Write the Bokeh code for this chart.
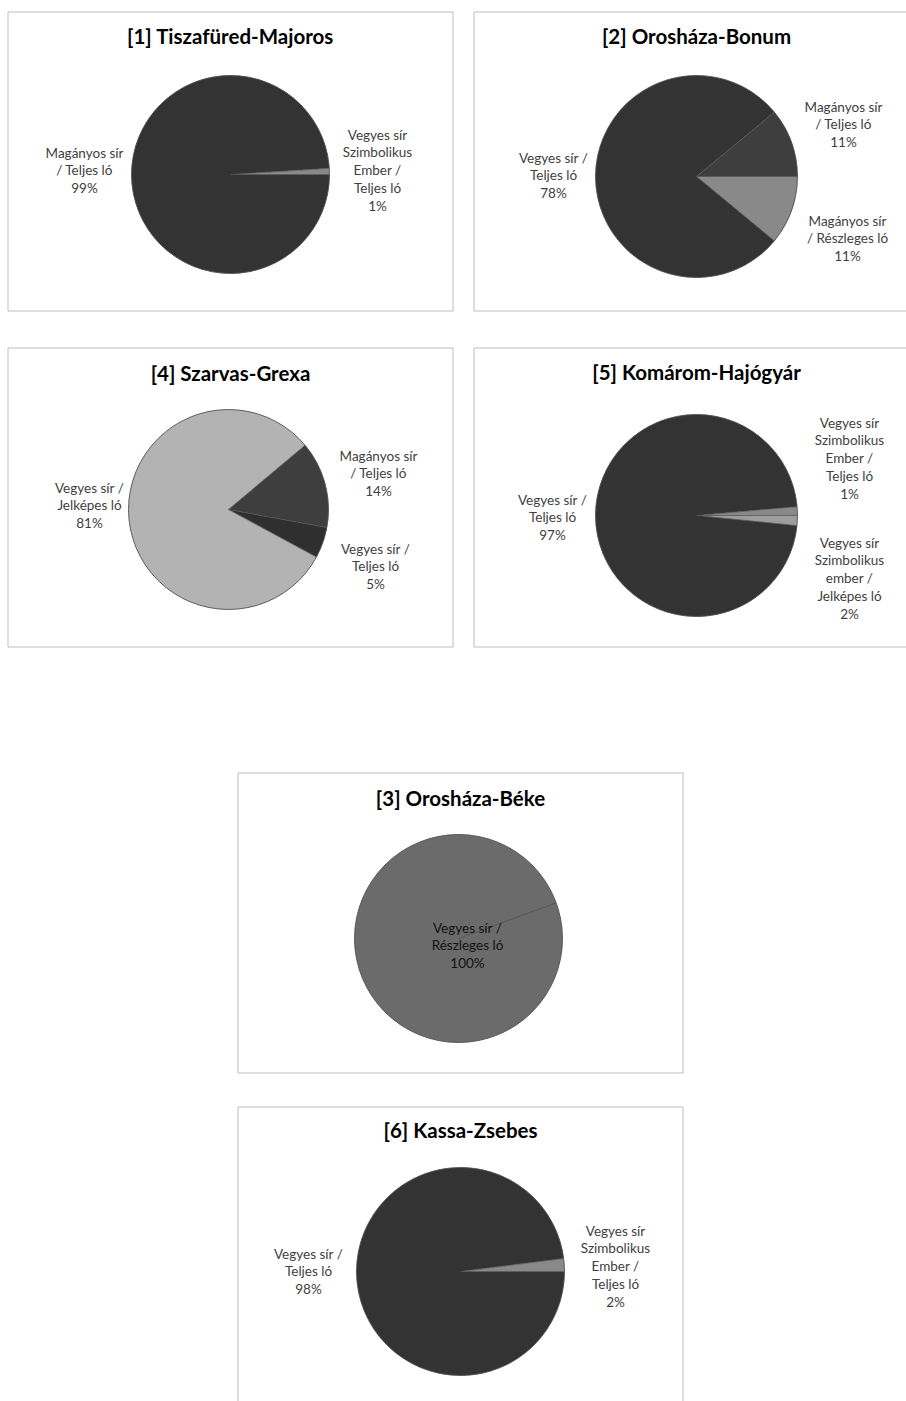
import math
from bokeh.plotting import figure
from bokeh.models import Range1d, ColumnDataSource
from bokeh.embed import file_html
from bokeh.resources import INLINE
from bokeh.core.properties import value

# ---------------- data ----------------
# slices listed clockwise from each chart's first-slice angle
c1_title = "[1] Tiszafüred-Majoros"
c1_categories = ["Magányos sír\n/ Teljes ló", "Vegyes sír\nSzimbolikus\nEmber /\nTeljes ló"]
c1_values = [99, 1]

c2_title = "[2] Orosháza-Bonum"
c2_categories = ["Magányos sír\n/ Részleges ló", "Vegyes sír /\nTeljes ló", "Magányos sír\n/ Teljes ló"]
c2_values = [11, 78, 11]

c4_title = "[4] Szarvas-Grexa"
c4_categories = ["Magányos sír\n/ Teljes ló", "Vegyes sír /\nTeljes ló", "Vegyes sír /\nJelképes ló"]
c4_values = [14, 5, 81]

c5_title = "[5] Komárom-Hajógyár"
c5_categories = ["Vegyes sír\nSzimbolikus\nember /\nJelképes ló", "Vegyes sír /\nTeljes ló", "Vegyes sír\nSzimbolikus\nEmber /\nTeljes ló"]
c5_values = [1.6, 97, 1.4]

c3_title = "[3] Orosháza-Béke"
c3_categories = ["Vegyes sír /\nRészleges ló"]
c3_values = [100]

c6_title = "[6] Kassa-Zsebes"
c6_categories = ["Vegyes sír /\nTeljes ló", "Vegyes sír\nSzimbolikus\nEmber /\nTeljes ló"]
c6_values = [98, 2]

# ---------------- layout / style ----------------
DARK = "#333333"
DARK2 = "#3e3e3e"
GRAY = "#898989"
LGRAY = "#9d9d9d"
LIGHT = "#b3b3b3"
MID = "#6b6b6b"

charts = [
    dict(title=c1_title, cats=c1_categories, vals=c1_values, colors=[DARK, GRAY],
         frame=(7, 453, 11, 311), center=(230, 174), r=99, start=0, title_pos=(230, 35),
         label_pos=[(84, 152), (377, 134)], label_colors=["#404040", "#404040"]),
    dict(title=c2_title, cats=c2_categories, vals=c2_values, colors=[GRAY, DARK, DARK2],
         frame=(473, 919, 11, 311), center=(696, 176), r=101, start=0, title_pos=(696, 35),
         label_pos=[(847, 220), (553, 157), (843, 106)], label_colors=["#404040"] * 3),
    dict(title=c4_title, cats=c4_categories, vals=c4_values, colors=[DARK2, "#2f2f2f", LIGHT],
         frame=(7, 453, 347, 647), center=(228, 509), r=100, start=40, title_pos=(230, 372),
         label_pos=[(378, 455), (375, 548), (89, 487)], label_colors=["#404040"] * 3),
    dict(title=c5_title, cats=c5_categories, vals=c5_values, colors=[LGRAY, DARK, GRAY],
         frame=(473, 919, 347, 647), center=(696, 515), r=101, start=0, title_pos=(696, 371),
         label_pos=[(849, 542), (552, 499), (849, 422)], label_colors=["#404040"] * 3),
    dict(title=c3_title, cats=c3_categories, vals=c3_values, colors=[MID],
         frame=(237, 683, 772, 1073), center=(458, 938), r=104, start=20, title_pos=(460, 797),
         label_pos=[(467, 927)], label_colors=["#111111"]),
    dict(title=c6_title, cats=c6_categories, vals=c6_values, colors=[DARK, GRAY],
         frame=(237, 683, 1106, 1406), center=(460, 1271), r=104, start=0, title_pos=(460, 1129),
         label_pos=[(308, 1253), (615, 1230)], label_colors=["#404040"] * 2),
]

W, H = 906, 1401
p = figure(width=W, height=H, output_backend="svg", toolbar_location=None,
           x_range=Range1d(0, W), y_range=Range1d(-H, 0),
           min_border=0, outline_line_color=None, background_fill_color="white")
p.axis.visible = False
p.xgrid.visible = False
p.ygrid.visible = False

FONT = "Lato"
LINE_H = 17.8
OUTLINE = "#505050"

for ch in charts:
    l, r_, t, b = ch["frame"]
    p.quad(left=[l + 0.5], right=[r_ - 0.5], top=[-(t + 0.5)], bottom=[-(b - 0.5)],
           fill_color="white", line_color="#bdbdbd", line_width=1)

    total = sum(ch["vals"])
    cx, cy = ch["center"]
    R = ch["r"]
    fs, fe, fc = [], [], []
    full = []
    bounds = []
    cum = 0.0
    for v, col in zip(ch["vals"], ch["colors"]):
        a_end = ch["start"] - cum / total * 360.0
        cum += v
        a_start = ch["start"] - cum / total * 360.0
        bounds.append(a_end)
        if a_end - a_start >= 359.9:
            full.append(col)          # a single slice filling the whole pie
        else:
            fs.append(math.radians(a_start))
            fe.append(math.radians(a_end))
            fc.append(col)
    for col in full:
        p.circle(x=[cx], y=[-cy], radius=R, fill_color=col, line_color=None)
    if fs:
        src = ColumnDataSource(dict(x=[cx] * len(fs), y=[-cy] * len(fs), s=fs, e=fe, c=fc))
        p.wedge(x="x", y="y", radius=R, start_angle="s", end_angle="e",
                direction="anticlock", fill_color="c", line_color=None, source=src)
    # slice borders
    p.circle(x=[cx], y=[-cy], radius=R, fill_color=None, line_color=OUTLINE, line_width=0.9)
    bx = [cx + R * math.cos(math.radians(a)) for a in bounds]
    by = [-cy + R * math.sin(math.radians(a)) for a in bounds]
    p.segment(x0=[cx] * len(bounds), y0=[-cy] * len(bounds), x1=bx, y1=by,
              line_color=OUTLINE, line_width=0.8)

    # title
    tx, ty = ch["title_pos"]
    p.text(x=[tx], y=[-ty], text=[ch["title"]], text_font=value(FONT),
           text_font_style="bold", text_font_size="20.5px", text_color="black",
           text_align="center", text_baseline="middle")

    # data labels
    xs, ys, txt, cols = [], [], [], []
    for cat, v, (lx, ly), lc in zip(ch["cats"], ch["vals"], ch["label_pos"], ch["label_colors"]):
        lines = cat.split("\n") + ["%d%%" % round(v / total * 100)]
        for j, line in enumerate(lines):
            xs.append(lx)
            ys.append(-(ly + j * LINE_H))
            txt.append(line)
            cols.append(lc)
    lsrc = ColumnDataSource(dict(x=xs, y=ys, t=txt, c=cols))
    p.text(x="x", y="y", text="t", text_color="c", source=lsrc,
           text_font=value(FONT), text_font_size="13.5px",
           text_align="center", text_baseline="middle")

open("out.html", "w").write(file_html(p, INLINE))
